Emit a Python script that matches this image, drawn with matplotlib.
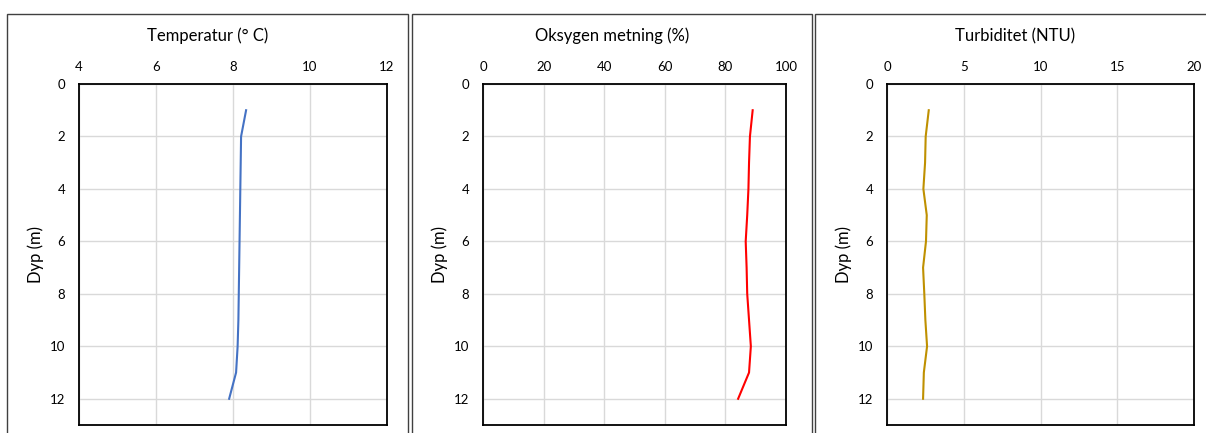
import matplotlib
matplotlib.use('Agg')
import matplotlib.pyplot as plt
from matplotlib.patches import Rectangle

depth = [1, 2, 3, 4, 5, 6, 7, 8, 9, 10, 11, 12]
temperatur = [8.34, 8.21, 8.20, 8.19, 8.18, 8.17, 8.16, 8.15, 8.14, 8.12, 8.08, 7.90]
oksygen = [89.0, 88.1, 87.8, 87.6, 87.2, 86.7, 87.0, 87.2, 87.8, 88.4, 87.8, 84.2]
turbiditet = [2.72, 2.52, 2.48, 2.37, 2.59, 2.54, 2.35, 2.43, 2.50, 2.61, 2.40, 2.35]

titles = ['Temperatur (° C)', 'Oksygen metning (%)', 'Turbiditet (NTU)']
xlims = [(4, 12), (0, 100), (0, 20)]
xticks = [[4, 6, 8, 10, 12], [0, 20, 40, 60, 80, 100], [0, 5, 10, 15, 20]]
colors = ['#4472C4', '#FF0000', '#BF9000']
series = [temperatur, oksygen, turbiditet]

plt.rcParams['font.family'] = ['Lato', 'DejaVu Sans']

W, H = 1206, 433
fig = plt.figure(figsize=(W / 100, H / 100), dpi=100)

# plot areas in pixels: left, right
plot_x = [(79, 387), (483, 786), (887, 1194)]
plot_top, plot_bottom = 84, 425
# chart borders in pixels: left, right
borders = [(7, 408), (412, 812), (815, 1215)]

for i in range(3):
    bl, br = borders[i]
    fig.patches.append(Rectangle((bl / W, -0.2), (br - bl) / W, 1.2 - 14 / H,
                                 transform=fig.transFigure, fill=False,
                                 edgecolor='#404040', linewidth=1.0))
    # excel centres the title on the chart area, not the plot area
    fig.text((bl + br) / 2 / W, 1 - 36 / H, titles[i], fontsize=12,
             ha='center', va='center')

    l, r = plot_x[i]
    ax = fig.add_axes([l / W, 1 - plot_bottom / H, (r - l) / W, (plot_bottom - plot_top) / H])
    ax.plot(series[i], depth, color=colors[i], linewidth=1.5)
    ax.set_xlim(*xlims[i])
    ax.set_ylim(13, 0)
    ax.set_xticks(xticks[i])
    ax.set_yticks([0, 2, 4, 6, 8, 10, 12])
    ax.xaxis.tick_top()
    ax.tick_params(length=0, labelsize=9.5, colors='#000000', pad=10)
    ax.tick_params(axis='x', pad=8)
    ax.grid(True, color='#d9d9d9', linewidth=1.0)
    ax.set_axisbelow(True)
    for s in ax.spines.values():
        s.set_color('#000000')
        s.set_linewidth(1.3)
    ax.set_ylabel('Dyp (m)', fontsize=12, labelpad=4)

fig.savefig('out.png', dpi=100)
